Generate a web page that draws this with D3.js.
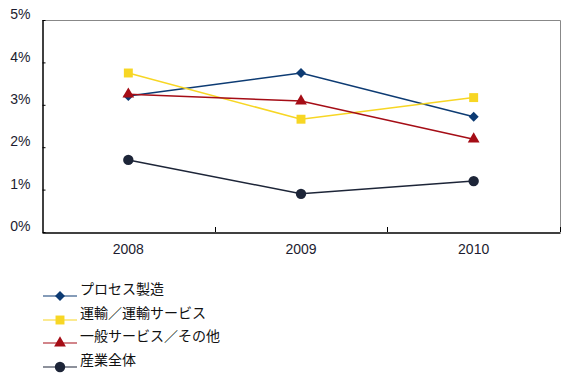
<!DOCTYPE html>
<html><head><meta charset="utf-8">
<script src="https://cdn.jsdelivr.net/npm/d3@7"></script>
<style>
body{margin:0;background:#fff;}
text{font-family:"Liberation Sans",Arial,sans-serif;}
.jp{font-family:"Noto Sans CJK JP",sans-serif;}
</style></head>
<body><svg id="c" width="570" height="383"></svg>
<script>
const categories = ["2008","2009","2010"];
const seriesNames = ["プロセス製造","運輸／運輸サービス","一般サービス／その他","産業全体"];
const processMfg = [3.21, 3.75, 2.72];
const transport = [3.75, 2.66, 3.17];
const generalSvc = [3.25, 3.09, 2.19];
const allIndustry = [1.70, 0.90, 1.20];
const yTicks = [0,1,2,3,4,5];
const colors = ["#0d3b73","#f7d624","#a50d16","#1d2538"];
const symbols = [d3.symbolSquare, d3.symbolSquare, d3.symbolTriangle, d3.symbolCircle];
const symRot = [45, 0, 0, 0];
const symSizes = [50, 80, 60, 85];
const seriesValues = [processMfg, transport, generalSvc, allIndustry];

const svg = d3.select("#c");
const L=42, R=560, T=20, B=232;
const x = d3.scaleBand().domain(categories).range([L,R]);
const y = d3.scaleLinear().domain([0,5]).range([B,T]);

svg.append("path").attr("d",`M${L},${T+0.5}H${R+0.5}V${B}`).attr("fill","none").attr("stroke","#888").attr("stroke-width",1);

const ya = svg.append("g").attr("transform",`translate(${L+0.5},0)`)
  .call(d3.axisLeft(y).tickValues(yTicks).tickSize(-3).tickFormat(d=>d+"%").tickSizeOuter(0));
ya.select(".domain").attr("stroke","#000").attr("stroke-width",1.5);
ya.selectAll(".tick line").attr("stroke","#000");
ya.selectAll(".tick text").attr("x",-12).attr("dy","-0.1em").attr("font-size",14).attr("fill","#1c1c30");

const xa = svg.append("g").attr("transform",`translate(0,${B+0.5})`)
  .call(d3.axisBottom(x).tickSize(0).tickSizeOuter(0));
xa.select(".domain").attr("stroke","#000").attr("stroke-width",1.5);
xa.selectAll(".tick text").attr("dy","1.3em").attr("font-size",14).attr("fill","#1c1c30");
const bounds = categories.map(c=>x(c)).concat([R]);
svg.append("g").selectAll("line").data(bounds.slice(1)).join("line")
  .attr("x1",d=>Math.round(d)+0.5).attr("x2",d=>Math.round(d)+0.5)
  .attr("y1",B).attr("y2",B-5).attr("stroke","#000");

const cx = c => x(c)+x.bandwidth()/2;
const line = d3.line().x((d,i)=>cx(categories[i])).y(d=>y(d));

seriesValues.forEach((vals,si)=>{
  svg.append("path").datum(vals).attr("d",line).attr("fill","none")
    .attr("stroke",colors[si]).attr("stroke-width",1.5);
});
seriesValues.forEach((vals,si)=>{
  svg.append("g").selectAll("path").data(vals).join("path")
    .attr("d",d3.symbol().type(symbols[si]).size(symSizes[si]))
    .attr("transform",(d,i)=>`translate(${cx(categories[i])},${y(d)}) rotate(${symRot[si]})`)
    .attr("fill",colors[si]);
});

const lg = svg.append("g");
const rowY = [296, 320, 343, 367];
seriesNames.forEach((n,i)=>{
  const g = lg.append("g").attr("transform",`translate(0,${rowY[i]})`);
  g.append("line").attr("x1",43).attr("x2",77).attr("y1",0).attr("y2",0).attr("stroke",colors[i]).attr("stroke-width",1.2);
  g.append("path").attr("d",d3.symbol().type(symbols[i]).size(symSizes[i])).attr("transform",`translate(60,0) rotate(${symRot[i]})`).attr("fill",colors[i]);
  g.append("text").attr("class","jp").attr("x",80).attr("y",-2).attr("font-size",14).attr("fill","#111").text(n);
});
</script></body></html>
